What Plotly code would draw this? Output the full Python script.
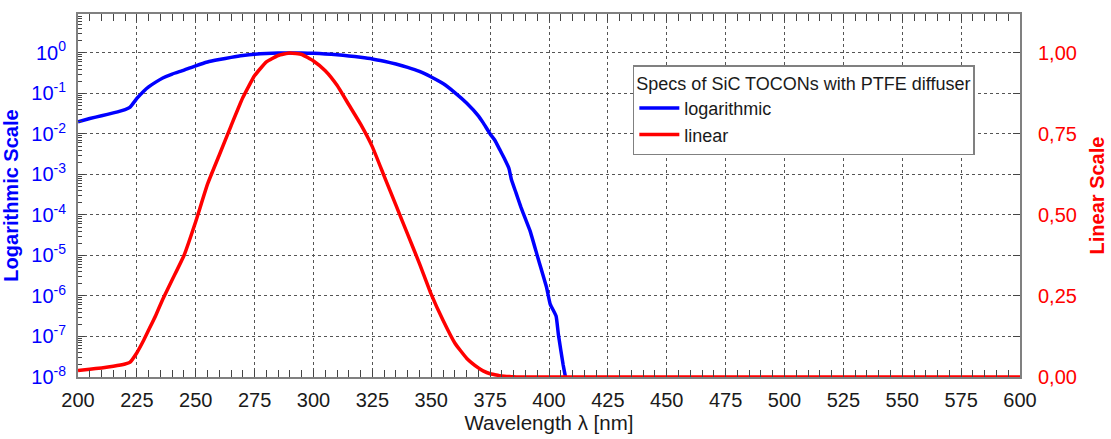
import plotly.graph_objects as go

# Spectral responsivity (normalized) of SiC TOCON with PTFE diffuser
wavelength = [200, 205, 210, 215, 220, 222, 225, 228, 230, 233, 236, 240, 245, 250,
              255, 260, 265, 270, 275, 280, 285, 290, 295, 300, 305, 310, 315, 320,
              325, 330, 335, 340, 345, 350, 355, 360, 365, 370, 372, 375, 377, 379,
              381, 383, 384, 386, 388, 390, 392, 395, 397, 399, 400.5, 403, 404,
              406, 407, 408]
response = [0.020, 0.024, 0.028, 0.033, 0.040, 0.045, 0.075, 0.115, 0.145, 0.19, 0.24,
            0.30, 0.375, 0.48, 0.595, 0.685, 0.775, 0.862, 0.93, 0.972, 0.992, 1.0, 0.995,
            0.975, 0.945, 0.90, 0.84, 0.78, 0.71, 0.62, 0.53, 0.44, 0.35, 0.255, 0.175,
            0.105, 0.058, 0.028, 0.019, 0.010, 0.0070, 0.0042, 0.0025, 0.0014, 7.6e-4,
            3.5e-4, 1.6e-4, 8.0e-5, 4.0e-5, 1.0e-5, 4.0e-6, 1.6e-6, 6.3e-7, 3.2e-7,
            1.1e-7, 2.0e-8, 1.0e-8, 5.0e-9]
tail_wavelength = [410, 600]
tail_response = [0.0, 0.0]

x_ticks = list(range(200, 601, 25))
log_tickvals = [1e-8, 1e-7, 1e-6, 1e-5, 1e-4, 1e-3, 1e-2, 1e-1, 1e0]
log_ticktext = ["10<sup>-8</sup>", "10<sup>-7</sup>", "10<sup>-6</sup>", "10<sup>-5</sup>",
                "10<sup>-4</sup>", "10<sup>-3</sup>", "10<sup>-2</sup>", "10<sup>-1</sup>",
                "10<sup>0</sup>"]
lin_tickvals = [0.0, 0.25, 0.5, 0.75, 1.0]

FONT = "Liberation Sans, Arial, sans-serif"
BLUE = "#0000ff"
RED = "#ff0000"
FRAME = "#808080"
GRID = "#555555"
TXT = "#1a1a1a"

fig = go.Figure()
fig.add_trace(go.Scatter(x=wavelength, y=response, mode="lines", name="logarithmic",
                         line=dict(color=BLUE, width=3.5, shape="spline", smoothing=0.4),
                         yaxis="y"))
fig.add_trace(go.Scatter(x=wavelength + tail_wavelength, y=response + tail_response,
                         mode="lines", name="linear",
                         line=dict(color=RED, width=3.5, shape="spline", smoothing=0.4),
                         yaxis="y2"))

fig.update_layout(
    width=1111, height=439,
    margin=dict(l=78, r=91, t=14, b=62),
    paper_bgcolor="white", plot_bgcolor="white",
    separators=",.",
    font=dict(family=FONT, size=18, color=TXT),
    xaxis=dict(
        range=[200, 600], tickvals=x_ticks, ticks="inside", ticklen=7,
        tickcolor="#444444", showline=True, linecolor=FRAME, linewidth=2,
        mirror="allticks", showgrid=True, gridcolor=GRID, griddash="dot", gridwidth=1,
        zeroline=False, automargin=False,
        minor=dict(dtick=5, ticks="inside", ticklen=4, tickcolor="#444444", showgrid=False),
        tickfont=dict(size=20, color=TXT),
        ticklabelstandoff=4,
        title=dict(text="Wavelength λ [nm]", font=dict(size=20.5, color=TXT), standoff=4),
    ),
    yaxis=dict(
        type="log", range=[-8, 0.96], tickvals=log_tickvals, ticktext=log_ticktext,
        ticks="inside", ticklen=7, tickcolor="#444444",
        showline=True, linecolor=FRAME, linewidth=2, automargin=False,
        showgrid=True, gridcolor=GRID, griddash="dot", gridwidth=1, zeroline=False,
        minor=dict(dtick="D1", ticks="inside", ticklen=4, tickcolor="#444444", showgrid=False),
        tickfont=dict(size=20, color=BLUE),
        ticklabelstandoff=6,
        title=dict(text="<b>Logarithmic Scale</b>", font=dict(size=20, color=BLUE), standoff=8),
    ),
    yaxis2=dict(
        overlaying="y", side="right", range=[0, 1.12], tickvals=lin_tickvals,
        tickformat=".2f", ticks="inside", ticklen=7, tickcolor="#444444",
        showline=True, linecolor=FRAME, linewidth=2, showgrid=False, zeroline=False,
        automargin=False,
        minor=dict(dtick=0.125, ticks="inside", ticklen=7, tickcolor="#444444", showgrid=False),
        tickfont=dict(size=20, color=RED),
        ticklabelstandoff=12,
        title=dict(text="<b>Linear Scale</b>", font=dict(size=20, color=RED), standoff=14),
    ),
    legend=dict(
        x=0.589, y=0.8595, xanchor="left", yanchor="top",
        bgcolor="white", bordercolor=FRAME, borderwidth=1.5,
        font=dict(size=18, color=TXT),
        title=dict(text="Specs of SiC TOCONs with PTFE diffuser",
                   font=dict(size=18, color=TXT), side="top"),
        itemwidth=40, tracegroupgap=0,
    ),
    showlegend=True,
)

fig.write_html("out.html", config={"displayModeBar": False},
               post_script="document.body.style.margin='0px';document.body.style.overflow='hidden';")
